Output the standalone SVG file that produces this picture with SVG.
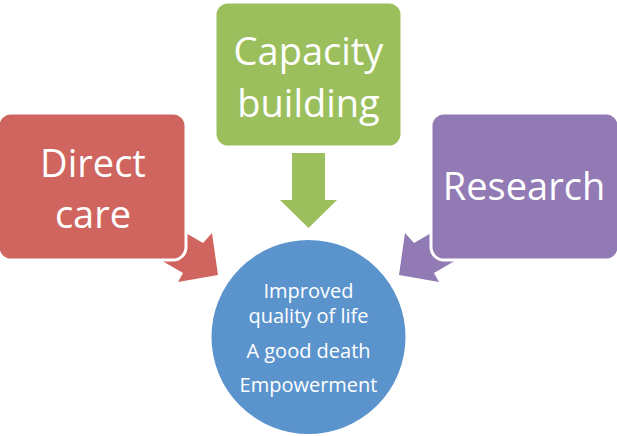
<svg xmlns="http://www.w3.org/2000/svg" width="617" height="436" viewBox="0 0 617 436">
<style>
.box{stroke:#fff;stroke-width:3}
.big{font-family:"Open Sans","Liberation Sans",sans-serif;font-size:38px;fill:#fff;text-anchor:middle}
.small{font-family:"Open Sans","Liberation Sans",sans-serif;font-size:20px;fill:#fff;text-anchor:middle}
</style>
<rect width="617" height="436" fill="#fff"/>
<g id="connectors">
<polygon id="arrow-red" fill="#CF655E" points="160,218 203,243 212,233 218,275 178,282 183,273 140,248"/>
<polygon id="arrow-purple" fill="#927AB5" points="457,218 414,243 405,233 399,275 439,282 434,273 477,248"/>
<polygon id="arrow-green" fill="#9CBF5D" points="292,153 325,153 325,200 337,200 308.5,228 280,200 292,200"/>
</g>
<g id="direct-care">
<rect class="box" x="-2" y="113" width="188" height="147" rx="13" fill="#CF655E"/>
<text class="big" x="93" y="177">Direct</text>
<text class="big" x="93" y="228">care</text>
</g>
<g id="capacity-building">
<rect class="box" x="215" y="2" width="187" height="145" rx="13" fill="#9CBF5D"/>
<text class="big" x="308.5" y="65">Capacity</text>
<text class="big" x="308.5" y="117">building</text>
</g>
<g id="research">
<rect class="box" x="431" y="113" width="188" height="147" rx="13" fill="#927AB5"/>
<text class="big" x="524" y="200">Research</text>
</g>
<g id="outcomes">
<circle cx="308.5" cy="337" r="98" fill="#5B94CD" stroke="#fff" stroke-width="2"/>
<text class="small" x="308.5" y="298">Improved</text>
<text class="small" x="308.5" y="323">quality of life</text>
<text class="small" x="308.5" y="358">A good death</text>
<text class="small" x="308.5" y="392">Empowerment</text>
</g>
</svg>
